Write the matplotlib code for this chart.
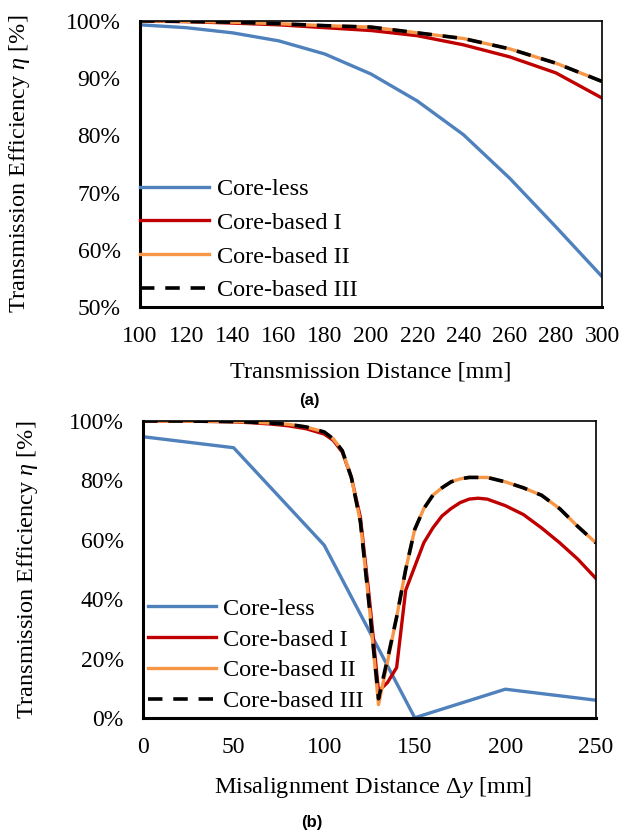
import matplotlib
matplotlib.use("Agg")
import matplotlib.pyplot as plt
from matplotlib.ticker import FuncFormatter

plt.rcParams["font.family"] = ["Liberation Serif", "DejaVu Serif"]
plt.rcParams["mathtext.fontset"] = "custom"
plt.rcParams["mathtext.rm"] = "Liberation Serif"
plt.rcParams["mathtext.it"] = "Liberation Serif:italic"

# (a) efficiency vs transmission distance
dist = [100, 120, 140, 160, 180, 200, 220, 240, 260, 280, 300]
a_coreless = [99.3, 98.8, 97.9, 96.5, 94.2, 90.7, 86.0, 80.1, 72.5, 64.0, 55.3]
a_core1 = [99.95, 99.85, 99.6, 99.3, 98.8, 98.3, 97.4, 95.8, 93.7, 90.9, 86.5]
a_core2 = [100.0, 99.9, 99.75, 99.5, 99.15, 98.9, 97.9, 96.9, 95.1, 92.6, 89.4]
a_core3 = [100.0, 99.9, 99.75, 99.5, 99.15, 98.9, 97.9, 96.9, 95.1, 92.6, 89.4]

# (b) efficiency vs misalignment
mis_coreless = [0, 50, 100, 150, 200, 250]
b_coreless = [94.7, 91.0, 58.2, 0.1, 9.7, 6.0]
mis = [0, 10, 20, 30, 40, 50, 60, 70, 80, 90, 100, 105, 110, 115, 120, 125, 130,
       135, 140, 145, 150, 155, 160, 165, 170, 175, 180, 185, 190, 200, 210, 220,
       230, 240, 250]
b_core1 = [100, 100, 100, 99.9, 99.8, 99.7, 99.4, 99.0, 98.4, 97.4, 95.6, 93.5,
           89.5, 81, 67.5, 40, 9, 12, 17, 43, 51, 59, 64, 68, 70.5, 72.5, 73.7,
           74, 73.7, 71.5, 68.5, 64, 59, 53.5, 47]
b_core2 = [100, 100, 100, 99.95, 99.9, 99.8, 99.6, 99.3, 98.9, 98.0, 96.3, 94,
           90, 81, 66, 37, 4.5, 19, 34, 50, 63.5, 70.5, 75, 77.5, 79.5, 80.5, 81,
           81, 81, 79.5, 77.5, 75, 70.5, 64.5, 59]
b_core3 = [100, 100, 100, 99.95, 99.9, 99.8, 99.6, 99.3, 98.9, 98.0, 96.3, 94,
           90, 81, 66, 37, 6.5, 20, 34, 50, 63.5, 70.5, 75, 77.5, 79.5, 80.5, 81,
           81, 81, 79.5, 77.5, 75, 70.5, 64.5, 59]

labels = ["Core-less", "Core-based I", "Core-based II", "Core-based III"]
c_blue = "#4F81BD"
c_red = "#C00000"
c_orange = "#F79646"

fig = plt.figure(figsize=(6.22, 8.32), dpi=100)
ax1 = fig.add_axes([0.225, 0.631, 0.743, 0.344])
ax2 = fig.add_axes([0.230, 0.137, 0.728, 0.357])

pct = FuncFormatter(lambda v, p: f"{v:.0f}%")


def style_axes(ax):
    for side in ["left", "bottom"]:
        ax.spines[side].set_linewidth(2.2)
    for side in ["top", "right"]:
        ax.spines[side].set_linewidth(1.2)
    ax.tick_params(length=0, labelsize=17, pad=14)
    ax.yaxis.set_major_formatter(pct)


# panel (a)
ax1.plot(dist, a_coreless, color=c_blue, lw=2.4, label=labels[0])
ax1.plot(dist, a_core1, color=c_red, lw=2.4, label=labels[1])
ax1.plot(dist, a_core2, color=c_orange, lw=2.4, label=labels[2])
ax1.plot(dist, a_core3, color="black", lw=2.6, dashes=(4, 3), label=labels[3])
ax1.set_xlim(100, 300)
ax1.set_ylim(50, 100)
ax1.set_xticks(range(100, 301, 20))
ax1.set_yticks(range(50, 101, 10))
style_axes(ax1)
ax1.legend(loc="lower left", bbox_to_anchor=(0.0, 0.02), frameon=False,
           fontsize=17.5, handlelength=2.85, handletextpad=0.3,
           labelspacing=0.48, borderaxespad=0, borderpad=0)

# panel (b)
ax2.plot(mis_coreless, b_coreless, color=c_blue, lw=2.4, label=labels[0])
ax2.plot(mis, b_core1, color=c_red, lw=2.4, label=labels[1])
ax2.plot(mis, b_core2, color=c_orange, lw=2.4, label=labels[2])
ax2.plot(mis, b_core3, color="black", lw=2.6, dashes=(4, 3), label=labels[3])
ax2.set_xlim(0, 250)
ax2.set_ylim(0, 100)
ax2.set_xticks(range(0, 251, 50))
ax2.set_yticks(range(0, 101, 20))
style_axes(ax2)
ax2.legend(loc="lower left", bbox_to_anchor=(0.01, 0.02), frameon=False,
           fontsize=17.5, handlelength=2.8, handletextpad=0.3,
           labelspacing=0.36, borderaxespad=0, borderpad=0)

# axis titles
fig.text(0.032, 1 - 164 / 832, r"Transmission Efficiency $\eta$ [%]",
         rotation=90, ha="center", va="center", fontsize=17.5)
fig.text(0.045, 1 - 570 / 832, r"Transmission Efficiency $\eta$ [%]",
         rotation=90, ha="center", va="center", fontsize=17.5)
fig.text(0.596, 1 - 372 / 832, "Transmission Distance [mm]",
         ha="center", va="center", fontsize=17.5)
fig.text(0.600, 1 - 788 / 832, r"Misalignment Distance Δ$y$ [mm]",
         ha="center", va="center", fontsize=17.5)

fig.text(0.497, 1 - 400 / 832, "(a)", ha="center", va="center",
         fontsize=12, fontweight="bold", family="Liberation Sans")
fig.text(0.502, 1 - 822 / 832, "(b)", ha="center", va="center",
         fontsize=12, fontweight="bold", family="Liberation Sans")

fig.savefig("out.png", dpi=100)
